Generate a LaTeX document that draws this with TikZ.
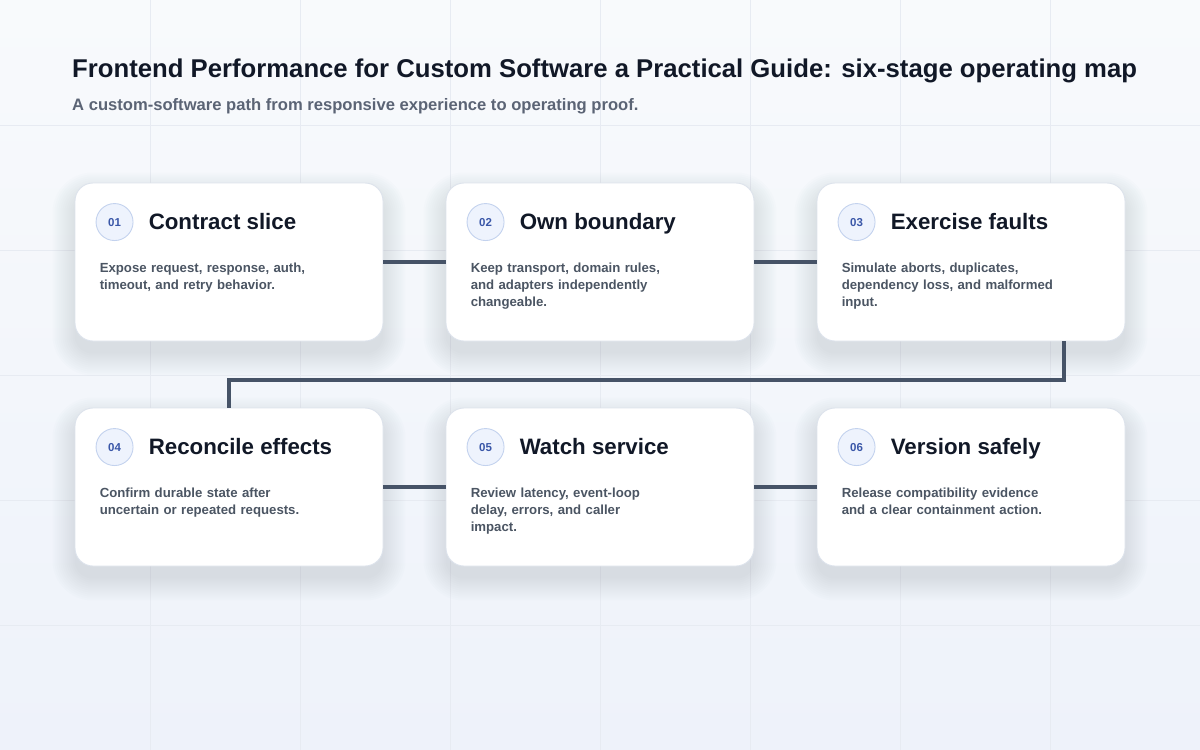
\documentclass[tikz,border=0pt]{standalone}
\usepackage{fontspec}
\setmainfont{Liberation Sans}
\usetikzlibrary{calc}
\pgfdeclarelayer{bglayer}
\pgfdeclarelayer{shadowlayer}
\pgfsetlayers{bglayer,shadowlayer,main}
\definecolor{bgtop}{HTML}{F8FAFC}
\definecolor{bgbot}{HTML}{EEF2FA}
\definecolor{gridc}{HTML}{E7EBF2}
\definecolor{titlec}{HTML}{111827}
\definecolor{subc}{HTML}{5B6475}
\definecolor{descc}{HTML}{4B5563}
\definecolor{cardborder}{HTML}{DDE3EC}
\definecolor{circfill}{HTML}{EEF3FD}
\definecolor{circborder}{HTML}{C3D2EE}
\definecolor{numc}{HTML}{3A57A8}
\definecolor{linkc}{HTML}{465367}
\definecolor{shadc}{HTML}{8792AA}
\tikzset{
  card/.style={draw=cardborder, line width=0.9pt, fill=white, rounded corners=18pt,
    minimum width=308pt, minimum height=158pt, inner sep=0pt},
  softshadow/.style={fill=shadc, fill opacity=0.018, draw=none},
  badge/.style={circle, draw=circborder, line width=0.9pt, fill=circfill, minimum size=37pt, inner sep=0pt,
    text=numc, font=\bfseries\fontsize{11.5}{12}\selectfont},
  cardtitle/.style={anchor=base west, inner sep=0pt, text=titlec, font=\bfseries\fontsize{22.3}{26}\selectfont},
  carddesc/.style={anchor=north west, inner sep=0pt, text=descc, align=left, text width=260pt,
    font=\bfseries\fontsize{13.2}{17}\selectfont},
  link/.style={draw=linkc, line width=4pt}
}
\begin{document}
\begin{tikzpicture}[x=1pt,y=-1pt]
\useasboundingbox (0,0) rectangle (1200,750);
\begin{pgfonlayer}{bglayer}
\shade[top color=bgtop, bottom color=bgbot] (0,0) rectangle (1200,750);
\foreach \gx in {150,300,...,1050} \draw[gridc, line width=0.8pt] (\gx,0) -- (\gx,750);
\foreach \gy in {125,250,...,625} \draw[gridc, line width=0.8pt] (0,\gy) -- (1200,\gy);
\end{pgfonlayer}

\node[anchor=base west, inner sep=0pt, text=titlec, font=\bfseries\fontsize{25.7}{30}\selectfont] (title) at (72,77)
  {Frontend Performance for Custom Software a Practical Guide: six-stage operating map};
\node[anchor=base west, inner sep=0pt, text=subc, font=\bfseries\fontsize{16.6}{20}\selectfont] (subtitle) at (72,110)
  {A custom-software path from responsive experience to operating proof.};

\node[card] (c1) at (229,262) {};
\node[card] (c2) at (600,262) {};
\node[card] (c3) at (971,262) {};
\node[card] (c4) at (229,487) {};
\node[card] (c5) at (600,487) {};
\node[card] (c6) at (971,487) {};

\begin{pgfonlayer}{shadowlayer}
\foreach \c in {c1,c2,c3,c4,c5,c6} {
  \foreach \s in {0,2,...,22} {
    \fill[softshadow, rounded corners=18pt+\s pt]
      ($(\c.north west)+(-\s,12-\s)$) rectangle ($(\c.south east)+(\s,12+\s)$);
  }
}
\end{pgfonlayer}

\foreach \c/\n/\t/\d in {
  c1/01/Contract slice/{Expose request, response, auth,\\timeout, and retry behavior.},
  c2/02/Own boundary/{Keep transport, domain rules,\\and adapters independently\\changeable.},
  c3/03/Exercise faults/{Simulate aborts, duplicates,\\dependency loss, and malformed\\input.},
  c4/04/Reconcile effects/{Confirm durable state after\\uncertain or repeated requests.},
  c5/05/Watch service/{Review latency, event-loop\\delay, errors, and caller\\impact.},
  c6/06/Version safely/{Release compatibility evidence\\and a clear containment action.}} {
  \node[badge] (\c-num) at ($(\c.north west)+(40,39.5)$) {\n};
  \node[cardtitle] (\c-title) at ($(\c.north west)+(74,47)$) {\t};
  \node[carddesc] (\c-desc) at ($(\c.north west)+(25,80.5)$) {\d};
}

\draw[link] (c1.east) -- (c2.west);
\draw[link] (c2.east) -- (c3.west);
\draw[link] (c4.east) -- (c5.west);
\draw[link] (c5.east) -- (c6.west);
\coordinate (c3out) at ($(c3.south west)!0.8!(c3.south east)$);
\coordinate (bend) at (0,380);
\draw[link] (c3out) -- (c3out |- bend) -| (c4.north);
\end{tikzpicture}
\end{document}
